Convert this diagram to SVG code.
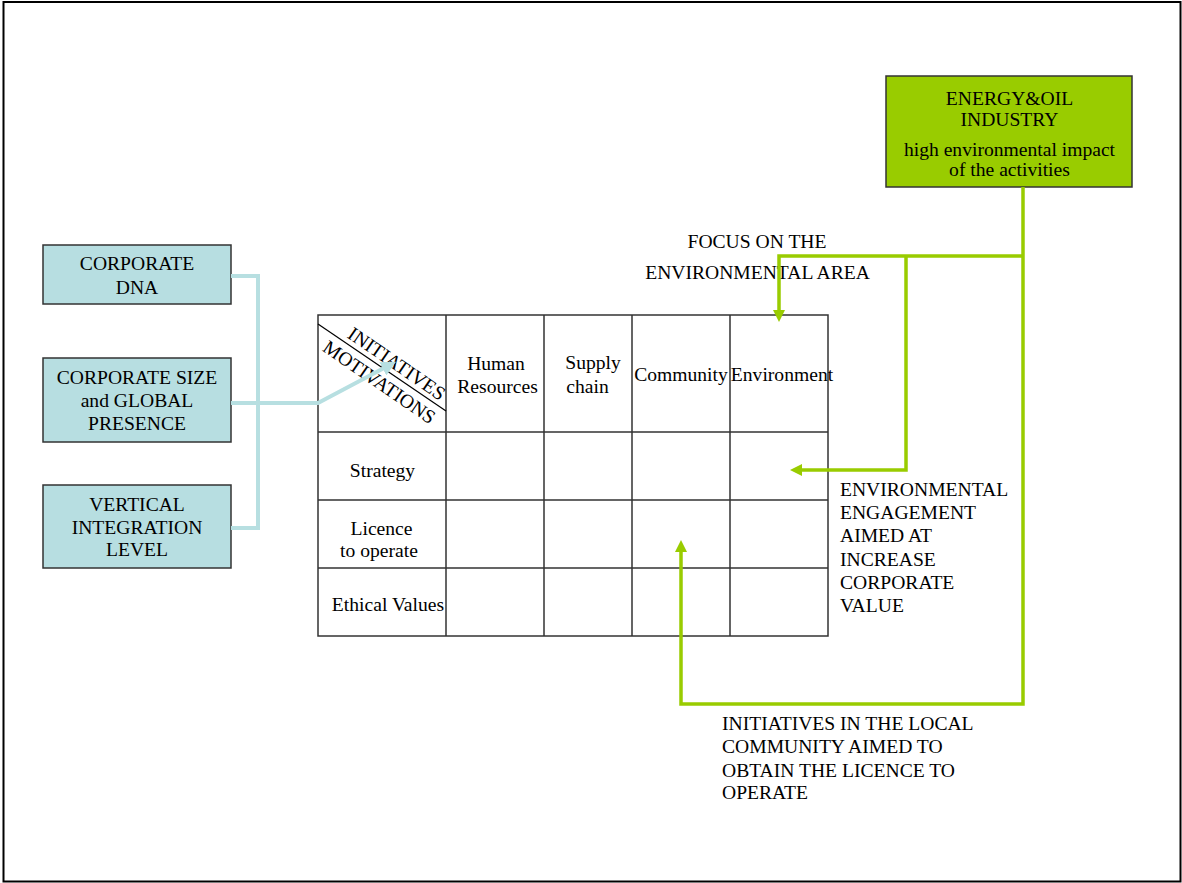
<svg xmlns="http://www.w3.org/2000/svg" width="1182" height="883" viewBox="0 0 1182 883">
<style>
text{font-family:"Liberation Serif","Times New Roman",serif;font-size:19.6px;fill:#000}
.c{text-anchor:middle}
.blue{fill:#b7dee1;stroke:#333;stroke-width:1.5}
.green{fill:#99cc00;stroke:#333;stroke-width:1.5}
.grid{stroke:#333;stroke-width:1.5;fill:none}
.gl{fill:none;stroke:#99cc00;stroke-width:3.5}
.bl{fill:none;stroke:#b7dfe1;stroke-width:4}
</style>
<defs>
<marker id="ag" viewBox="0 0 12 12" markerWidth="12" markerHeight="12" refX="2" refY="6" orient="auto" markerUnits="userSpaceOnUse"><path d="M0,0 L12,6 L0,12 z" fill="#99cc00"/></marker>
<marker id="ab" viewBox="0 0 12 12" markerWidth="15" markerHeight="15" refX="2" refY="6" orient="auto" markerUnits="userSpaceOnUse"><path d="M0,0 L12,6 L0,12 z" fill="#b7dfe1"/></marker>
</defs>
<rect x="3.5" y="2" width="1177" height="879.5" fill="#fff" stroke="#000" stroke-width="2"/>

<g id="energy">
<rect class="green" x="886" y="76" width="246" height="111"/>
<text class="c" x="1009.5" y="105">ENERGY&amp;OIL</text>
<text class="c" x="1009.5" y="126">INDUSTRY</text>
<text class="c" x="1009.5" y="156">high environmental impact</text>
<text class="c" x="1009.5" y="176">of the activities</text>
</g>

<g id="dna">
<rect class="blue" x="43" y="245" width="188" height="59"/>
<text class="c" x="137" y="270">CORPORATE</text>
<text class="c" x="137" y="294">DNA</text>
</g>
<g id="size">
<rect class="blue" x="43" y="358" width="188" height="84"/>
<text class="c" x="137" y="384">CORPORATE SIZE</text>
<text class="c" x="137" y="407">and GLOBAL</text>
<text class="c" x="137" y="430">PRESENCE</text>
</g>
<g id="vertical">
<rect class="blue" x="43" y="485" width="188" height="83"/>
<text class="c" x="137" y="511">VERTICAL</text>
<text class="c" x="137" y="534">INTEGRATION</text>
<text class="c" x="137" y="556">LEVEL</text>
</g>

<g id="matrix">
<rect class="grid" x="318" y="315" width="510" height="321"/>
<path class="grid" d="M446,315 V636 M544,315 V636 M632,315 V636 M730,315 V636 M318,432 H828 M318,500 H828 M318,568 H828"/>
<path stroke="#000" stroke-width="1.2" d="M318,324 L446,411"/>
<text class="c" transform="translate(393,369) rotate(34.5)">INITIATIVES</text>
<text class="c" transform="translate(375.7,387.5) rotate(34.5)">MOTIVATIONS</text>
<text class="c" x="496" y="370">Human</text>
<text class="c" x="497.5" y="393">Resources</text>
<text class="c" x="593" y="369">Supply</text>
<text class="c" x="587.5" y="393">chain</text>
<text class="c" x="681" y="381">Community</text>
<text class="c" x="782" y="381">Environment</text>
<text class="c" x="382.5" y="477">Strategy</text>
<text class="c" x="381.5" y="535">Licence</text>
<text class="c" x="379" y="557">to operate</text>
<text class="c" x="388" y="611">Ethical Values</text>
</g>

<g id="label-focus">
<text class="c" x="757" y="248">FOCUS ON THE</text>
<text class="c" x="757.5" y="279">ENVIRONMENTAL AREA</text>
</g>
<g id="label-engagement">
<text x="840" y="496">ENVIRONMENTAL</text>
<text x="840" y="519">ENGAGEMENT</text>
<text x="840" y="542">AIMED AT</text>
<text x="840" y="566">INCREASE</text>
<text x="840" y="589">CORPORATE</text>
<text x="840" y="612">VALUE</text>
</g>
<g id="label-community">
<text x="722" y="730">INITIATIVES IN THE LOCAL</text>
<text x="722" y="753">COMMUNITY AIMED TO</text>
<text x="722" y="777">OBTAIN THE LICENCE TO</text>
<text x="722" y="799">OPERATE</text>
</g>

<g id="connectors">
<path class="bl" d="M231,276 H258 V528 H231"/>
<path class="bl" d="M231,403 H318 L385,367.6" marker-end="url(#ab)"/>
<path class="gl" d="M1023,187 V704 H681 V550" marker-end="url(#ag)"/>
<path class="gl" d="M1023,256 H779 V312" marker-end="url(#ag)"/>
<path class="gl" d="M906,256 V470 H800" marker-end="url(#ag)"/>
</g>
</svg>
